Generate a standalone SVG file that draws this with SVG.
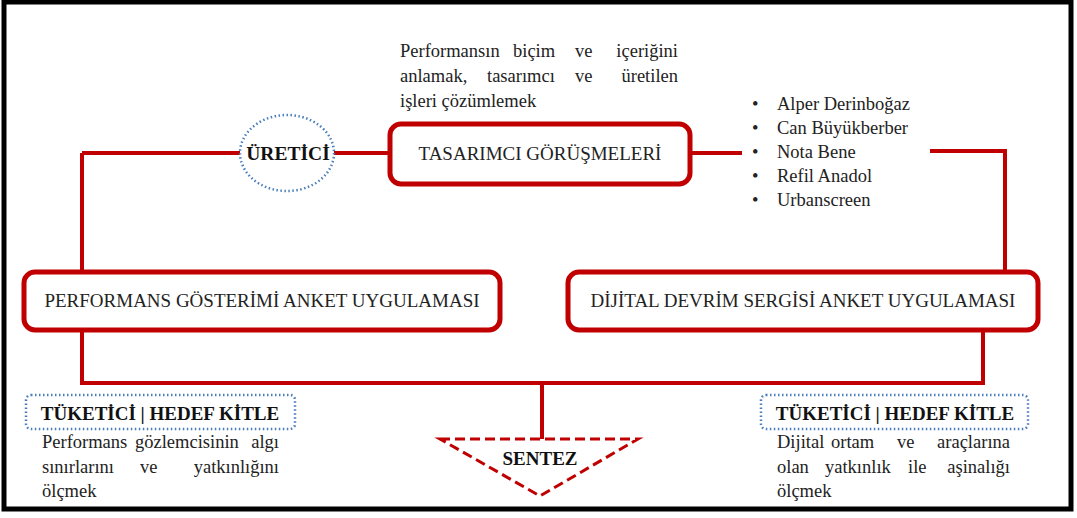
<svg xmlns="http://www.w3.org/2000/svg" width="1077" height="518" viewBox="0 0 1077 518">
<style>
.box{fill:#fff;stroke:#c00000;stroke-width:5}
.con{fill:none;stroke:#c00000;stroke-width:4}
.dot{fill:#fff;stroke:#4a7ebb;stroke-width:2.5;stroke-dasharray:1.5 2.5}
.t{font-family:'Liberation Serif','DejaVu Serif',serif;fill:#222;font-size:18.5px}
.h{font-family:'Liberation Serif','DejaVu Serif',serif;fill:#222;font-size:19px}
.b{font-family:'Liberation Serif','DejaVu Serif',serif;fill:#111;font-weight:bold}
</style>
<rect x="0" y="0" width="1077" height="518" fill="#fff"/>
<rect x="4" y="2" width="1067" height="507" fill="none" stroke="#000" stroke-width="5"/>
<g id="connectors">
<path class="con" d="M82,153 H240 M82,153 V271"/>
<path class="con" d="M334,153 H390"/>
<path class="con" d="M690,153 H742"/>
<path class="con" d="M930,151 H1005 V271"/>
<path class="con" d="M82,330 V383 H983 V330"/>
<path class="con" d="M542,383 V439" stroke-width="3"/>
</g>
<g id="uretici">
<ellipse class="dot" cx="287" cy="153" rx="47" ry="38"/>
<text class="b" x="288" y="160" font-size="19.5" text-anchor="middle">ÜRETİCİ</text>
</g>
<g id="tasarimci">
<rect class="box" x="390" y="124" width="300" height="60" rx="11"/>
<text class="h" x="540" y="160" text-anchor="middle">TASARIMCI GÖRÜŞMELERİ</text>
</g>
<g id="tasarimci-desc" class="t">
<text y="57"><tspan x="400">Performansın</tspan><tspan x="513">biçim</tspan><tspan x="575">ve</tspan><tspan x="678" text-anchor="end">içeriğini</tspan></text>
<text y="82"><tspan x="400">anlamak,</tspan><tspan x="487">tasarımcı</tspan><tspan x="575">ve</tspan><tspan x="678" text-anchor="end">üretilen</tspan></text>
<text x="400" y="107">işleri çözümlemek</text>
</g>
<g id="designers" class="t">
<text x="752" y="110">•</text><text x="777" y="110">Alper Derinboğaz</text>
<text x="752" y="134">•</text><text x="777" y="134">Can Büyükberber</text>
<text x="752" y="158">•</text><text x="777" y="158">Nota Bene</text>
<text x="752" y="182">•</text><text x="777" y="182">Refil Anadol</text>
<text x="752" y="206">•</text><text x="777" y="206">Urbanscreen</text>
</g>
<g id="performans">
<rect class="box" x="24" y="272" width="476" height="58" rx="11"/>
<text class="h" x="262" y="307" text-anchor="middle">PERFORMANS GÖSTERİMİ ANKET UYGULAMASI</text>
</g>
<g id="dijital">
<rect class="box" x="568" y="272" width="470" height="58" rx="11"/>
<text class="h" x="803" y="307" text-anchor="middle">DİJİTAL DEVRİM SERGİSİ ANKET UYGULAMASI</text>
</g>
<g id="sentez">
<path d="M440,439 H638 L540,496 Z" fill="#fff" stroke="#c00000" stroke-width="3" stroke-dasharray="10 5"/>
<text class="b" x="540" y="465" font-size="19" text-anchor="middle">SENTEZ</text>
</g>
<g id="tuketici-left">
<rect class="dot" x="26" y="395" width="269" height="34" rx="5"/>
<text class="b" x="160" y="420" font-size="19" text-anchor="middle">TÜKETİCİ | HEDEF KİTLE</text>
</g>
<g id="tuketici-left-desc" class="t">
<text y="448"><tspan x="42">Performans</tspan><tspan x="135">gözlemcisinin</tspan><tspan x="279" text-anchor="end">algı</tspan></text>
<text y="473"><tspan x="42">sınırlarını</tspan><tspan x="140">ve</tspan><tspan x="279" text-anchor="end">yatkınlığını</tspan></text>
<text x="42" y="497">ölçmek</text>
</g>
<g id="tuketici-right">
<rect class="dot" x="761" y="395" width="267" height="34" rx="5"/>
<text class="b" x="895" y="420" font-size="19" text-anchor="middle">TÜKETİCİ | HEDEF KİTLE</text>
</g>
<g id="tuketici-right-desc" class="t">
<text y="448"><tspan x="777">Dijital</tspan><tspan x="831">ortam</tspan><tspan x="897">ve</tspan><tspan x="1010" text-anchor="end">araçlarına</tspan></text>
<text y="473"><tspan x="777">olan</tspan><tspan x="825">yatkınlık</tspan><tspan x="908">ile</tspan><tspan x="1010" text-anchor="end">aşinalığı</tspan></text>
<text x="777" y="497">ölçmek</text>
</g>
</svg>
